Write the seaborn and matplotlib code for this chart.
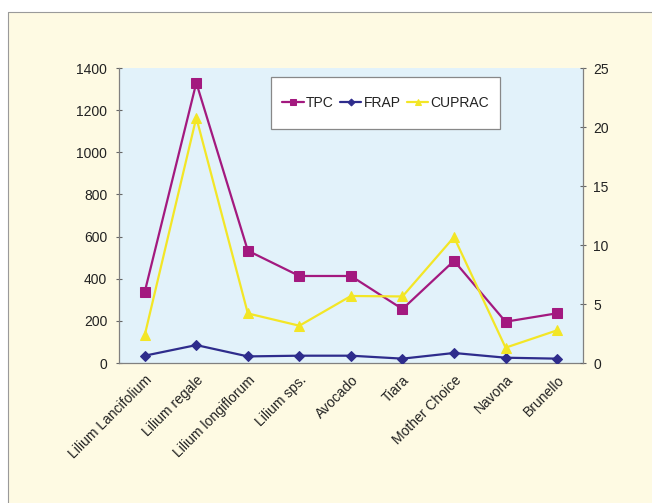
import numpy as np
import pandas as pd
import seaborn as sb
import matplotlib.pyplot as plt
from matplotlib.lines import Line2D
from matplotlib.patches import Rectangle
from matplotlib.ticker import MultipleLocator

samples = ["Lilium Lancifolium", "Lilium regale", "Lilium longiflorum", "Lilium sps.",
           "Avocado", "Tiara", "Mother Choice", "Navona", "Brunello"]
tpc = [338, 1330, 533, 413, 413, 256, 485, 196, 236]          # left axis
frap = [0.62, 1.52, 0.56, 0.62, 0.62, 0.37, 0.85, 0.45, 0.37]  # right axis
cuprac = [2.37, 20.8, 4.2, 3.16, 5.68, 5.64, 10.67, 1.3, 2.77]  # right axis

BG = "#FEFAE3"
PLOT_BG = "#E2F2FA"
C_TPC = "#A3197F"
C_FRAP = "#2E2C8C"
C_CUPRAC = "#F3E626"
TXT = "#222222"

sb.set_style("white")
plt.rcParams['font.family'] = ['Liberation Sans', 'DejaVu Sans']


def plot_antioxidants(out_file="out.png"):
    df = pd.DataFrame({"pos": np.arange(len(samples)), "sample": samples,
                       "TPC": tpc, "FRAP": frap, "CUPRAC": cuprac})

    fig = plt.figure(figsize=(6.52, 5.03), dpi=100, facecolor="white")
    # cream panel offset from the top-left corner, border only on top and left
    x0, y1 = 8 / 652, 1 - 12 / 503
    fig.patches.append(Rectangle((x0, 0), 1 - x0, y1, transform=fig.transFigure,
                                 facecolor=BG, edgecolor="none", zorder=-10))
    fig.lines.append(Line2D([x0, x0, 1], [0, y1, y1], transform=fig.transFigure,
                            color="#9a9a9a", linewidth=0.8, zorder=-9))

    ax = fig.add_axes([0.1825, 0.2783, 0.7115, 0.5865])
    ax.set_facecolor(PLOT_BG)
    ax2 = ax.twinx()

    sb.lineplot(data=df, x="pos", y="TPC", ax=ax, color=C_TPC, marker="s",
                markersize=7, markeredgecolor=C_TPC, linewidth=1.6, label="TPC", legend=False)
    sb.lineplot(data=df, x="pos", y="FRAP", ax=ax2, color=C_FRAP, marker="D",
                markersize=5, markeredgecolor=C_FRAP, linewidth=1.6, label="FRAP", legend=False)
    sb.lineplot(data=df, x="pos", y="CUPRAC", ax=ax2, color=C_CUPRAC, marker="^",
                markersize=7, markeredgecolor=C_CUPRAC, linewidth=1.6, label="CUPRAC", legend=False)

    ax.set_xlim(-0.5, len(samples) - 0.5)
    ax.set_ylim(0, 1400)
    ax2.set_ylim(0, 25)
    ax.yaxis.set_major_locator(MultipleLocator(200))
    ax2.yaxis.set_major_locator(MultipleLocator(5))

    ax.set_xticks(df["pos"])
    ax.set_xticklabels(samples, rotation=45, ha="right", rotation_mode="anchor",
                       fontsize=10, color=TXT)
    ax.set_xticks(np.arange(-0.5, len(samples), 1.0), minor=True)
    ax.tick_params(axis="x", which="major", length=0, pad=7)
    ax.tick_params(axis="x", which="minor", length=5, width=0.8, color="#666666", direction="inout")
    ax.tick_params(axis="y", length=5, width=0.8, color="#666666", direction="inout",
                   labelsize=10, labelcolor=TXT, pad=6)
    ax2.tick_params(axis="y", length=5, width=0.8, color="#666666", direction="inout",
                    labelsize=10, labelcolor=TXT, pad=5)
    ax.set_xlabel("")
    ax.set_ylabel("")
    ax2.set_ylabel("")

    for a in (ax, ax2):
        a.spines["top"].set_visible(False)
        for s in ("left", "right", "bottom"):
            a.spines[s].set_color("#808080")
            a.spines[s].set_linewidth(0.9)
    ax.spines["right"].set_visible(False)
    ax2.spines["left"].set_visible(False)
    ax2.spines["bottom"].set_visible(False)

    # legend frame drawn separately so it can be tall but tight at the sides
    ax2.add_patch(Rectangle((0.3287, 0.793), 0.4923, 0.1765, transform=ax2.transAxes,
                            facecolor="white", edgecolor="#888888", linewidth=0.9, zorder=4))
    handles = ax.get_lines()[:1] + ax2.get_lines()[:2]
    leg = ax2.legend(handles, ["TPC", "FRAP", "CUPRAC"], loc="center",
                     bbox_to_anchor=(0.5748, 0.881), ncol=3, fontsize=10, frameon=False,
                     borderpad=0.2, handlelength=1.55, handletextpad=0.15,
                     columnspacing=0.45, markerscale=0.7)
    leg.set_zorder(5)
    for t in leg.get_texts():
        t.set_color(TXT)

    fig.savefig(out_file, dpi=100, facecolor="white")


if __name__ == "__main__":
    plot_antioxidants()
